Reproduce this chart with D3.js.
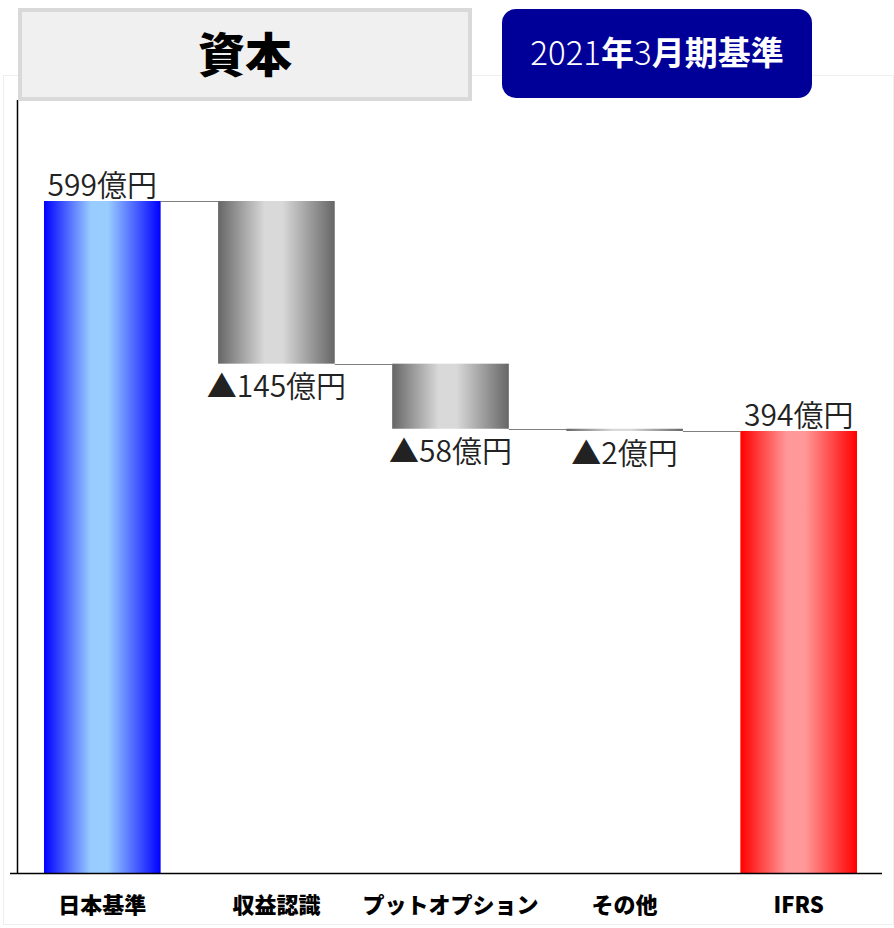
<!DOCTYPE html>
<html>
<head>
<meta charset="utf-8">
<script src="https://cdn.jsdelivr.net/npm/d3@7"></script>
<style>
  body { margin: 0; background: #fff; }
  svg text { font-family: "Noto Sans CJK JP", "Noto Sans", sans-serif; }
</style>
</head>
<body>
<div id="chart-container"></div>
<script>
// data
var categories = ["日本基準", "収益認識", "プットオプション", "その他", "IFRS"];
var values = [599, -145, -58, -2, 394];
var kinds = ["start", "delta", "delta", "delta", "end"];
var valueLabels = ["599億円", "▲145億円", "▲58億円", "▲2億円", "394億円"];
var titleText = "資本";
var badgeParts = [["2021", 300], ["年", 700], ["3", 300], ["月期基準", 700]];

var width = 894, height = 928;

var svg = d3.select("#chart-container")
    .append("svg")
    .attr("width", width)
    .attr("height", height);

// gradients
var defs = svg.append("defs");
function addGrad(id, edge, mid) {
    var g = defs.append("linearGradient").attr("id", id)
        .attr("x1", "0%").attr("x2", "100%").attr("y1", "0%").attr("y2", "0%");
    g.append("stop").attr("offset", "0%").attr("stop-color", edge);
    g.append("stop").attr("offset", "40%").attr("stop-color", mid);
    g.append("stop").attr("offset", "55%").attr("stop-color", mid);
    g.append("stop").attr("offset", "100%").attr("stop-color", edge);
}
addGrad("gBlue", "#0000ff", "#99ccff");
addGrad("gGray", "#666666", "#d9d9d9");
addGrad("gRed", "#ff0000", "#ff9999");

// plot frame
svg.append("rect")
    .attr("x", 3.5).attr("y", 75.5)
    .attr("width", 890).attr("height", 849)
    .attr("fill", "#fff")
    .attr("stroke", "#eeeeee");

// build waterfall rows
var rows = [];
var running = 0;
categories.forEach(function (c, i) {
    var v = values[i], lo, hi;
    if (kinds[i] === "delta") {
        hi = running; lo = running + v; running = lo;
    } else {
        lo = 0; hi = v; running = v;
    }
    rows.push({cat: c, lo: lo, hi: hi, kind: kinds[i], label: valueLabels[i], end: running});
});

var x = d3.scaleBand()
    .domain(categories)
    .range([17, 884])
    .paddingInner(0.33)
    .paddingOuter(0.155);

var y = d3.scaleLinear()
    .domain([0, 599])
    .range([873, 201]);

// connectors
rows.forEach(function (d, i) {
    if (i === rows.length - 1) return;
    svg.append("line")
        .attr("x1", x(d.cat) + x.bandwidth())
        .attr("x2", x(rows[i + 1].cat))
        .attr("y1", Math.round(y(d.end)) + 0.5)
        .attr("y2", Math.round(y(d.end)) + 0.5)
        .attr("stroke", "#7f7f7f")
        .attr("stroke-width", 1);
});

// bars
svg.selectAll("rect.bar")
    .data(rows)
    .enter()
    .append("rect")
    .attr("class", "bar")
    .attr("x", function (d) { return x(d.cat); })
    .attr("width", x.bandwidth())
    .attr("y", function (d) { return y(d.hi); })
    .attr("height", function (d) { return Math.max(2, y(d.lo) - y(d.hi)); })
    .attr("fill", function (d) {
        if (d.kind === "start") return "url(#gBlue)";
        if (d.kind === "end") return "url(#gRed)";
        return "url(#gGray)";
    });

// value labels
svg.selectAll("text.val")
    .data(rows)
    .enter()
    .append("text")
    .attr("class", "val")
    .attr("x", function (d) { return x(d.cat) + x.bandwidth() / 2; })
    .attr("y", function (d) {
        return d.kind === "delta" ? y(d.lo) + 33 : y(d.hi) - 5;
    })
    .attr("text-anchor", "middle")
    .style("font-size", "30px")
    .style("font-weight", 350)
    .style("fill", "#222")
    .text(function (d) { return d.label; });

// axes
svg.append("line")
    .attr("x1", 17.5).attr("x2", 17.5)
    .attr("y1", 100).attr("y2", 873)
    .attr("stroke", "#000").attr("stroke-width", 1.5);
svg.append("line")
    .attr("x1", 10).attr("x2", 882)
    .attr("y1", 873.5).attr("y2", 873.5)
    .attr("stroke", "#000").attr("stroke-width", 1.5);

svg.selectAll("text.cat")
    .data(categories)
    .enter()
    .append("text")
    .attr("class", "cat")
    .attr("x", function (d) { return x(d) + x.bandwidth() / 2; })
    .attr("y", 913)
    .attr("text-anchor", "middle")
    .style("font-size", "22px")
    .style("font-weight", 900)
    .style("fill", "#000")
    .text(function (d) { return d; });

// title box
svg.append("rect")
    .attr("x", 20).attr("y", 10)
    .attr("width", 450).attr("height", 89)
    .attr("fill", "#f0f0f0")
    .attr("stroke", "#d9d9d9")
    .attr("stroke-width", 4);
svg.append("text")
    .attr("x", 245).attr("y", 72)
    .attr("text-anchor", "middle")
    .style("font-size", "47px")
    .style("font-weight", 900)
    .text(titleText);

// badge
svg.append("rect")
    .attr("x", 502).attr("y", 9)
    .attr("width", 310).attr("height", 89)
    .attr("rx", 14)
    .attr("fill", "#000099");
var badge = svg.append("text")
    .attr("x", 657).attr("y", 65)
    .attr("text-anchor", "middle")
    .style("font-size", "33px")
    .style("fill", "#fff");
badgeParts.forEach(function (p) {
    badge.append("tspan").style("font-weight", p[1]).text(p[0]);
});
</script>
</body>
</html>
